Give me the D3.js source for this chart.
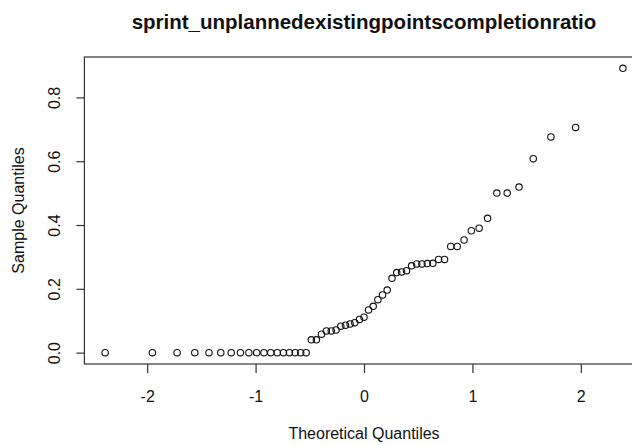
<!DOCTYPE html>
<html>
<head>
<meta charset="utf-8">
<script src="https://cdn.jsdelivr.net/npm/d3@7"></script>
<style>
  body { margin: 0; background: #fff; }
  text { font-family: "Liberation Sans", Arial, sans-serif; fill: #111; }
</style>
</head>
<body>
<div id="chart"></div>
<script>
// sorted sample values
const sampleQuantiles = [
  0, 0, 0, 0, 0, 0, 0, 0, 0, 0, 0, 0, 0, 0, 0, 0, 0, 0,
  0.040, 0.040, 0.058, 0.068, 0.068, 0.071, 0.083, 0.086, 0.090, 0.094,
  0.104, 0.111, 0.134, 0.145, 0.166, 0.181, 0.196, 0.233, 0.251, 0.253,
  0.257, 0.272, 0.278, 0.278, 0.279, 0.280, 0.292, 0.292, 0.333, 0.333,
  0.353, 0.382, 0.390, 0.421, 0.500, 0.500, 0.519, 0.608, 0.676, 0.706, 0.891
];

// x positions of the points
const theoreticalQuantiles = [
  -2.388, -1.952, -1.724, -1.561, -1.430, -1.321, -1.225, -1.140, -1.062, -0.990,
  -0.923, -0.860, -0.800, -0.743, -0.688, -0.635, -0.584, -0.534, -0.486, -0.439,
  -0.392, -0.347, -0.302, -0.258, -0.214, -0.171, -0.128, -0.085, -0.042, 0,
  0.042, 0.085, 0.128, 0.171, 0.214, 0.258, 0.302, 0.347, 0.392, 0.439,
  0.486, 0.534, 0.584, 0.635, 0.688, 0.743, 0.800, 0.860, 0.923, 0.990,
  1.062, 1.140, 1.225, 1.321, 1.430, 1.561, 1.724, 1.952, 2.388
];

const xTicks = [-2, -1, 0, 1, 2];
const yTicks = [0.0, 0.2, 0.4, 0.6, 0.8];

const title = 'sprint_unplannedexistingpointscompletionratio';

const width = 632;
const height = 445;
const plot = { left: 84.4, right: 643.6, top: 57, bottom: 364 };

const svg = d3.select('#chart')
    .append('svg')
    .attr('width', width)
    .attr('height', height);

// R style 4% padding
function pad(ext) {
    const d = (ext[1] - ext[0]) * 0.04;
    return [ext[0] - d, ext[1] + d];
}

const x = d3.scaleLinear()
    .domain(pad(d3.extent(theoreticalQuantiles)))
    .range([plot.left, plot.right]);

const y = d3.scaleLinear()
    .domain(pad(d3.extent(sampleQuantiles)))
    .range([plot.bottom, plot.top]);

// box
svg.append('rect')
    .attr('x', plot.left)
    .attr('y', plot.top)
    .attr('width', plot.right - plot.left)
    .attr('height', plot.bottom - plot.top)
    .attr('fill', 'none')
    .attr('stroke', '#333')
    .attr('stroke-width', 1.2);

// x axis
const gx = svg.append('g')
    .attr('transform', `translate(0,${plot.bottom})`)
    .call(d3.axisBottom(x).tickValues(xTicks).tickSize(9));
gx.select('.domain').remove();
gx.selectAll('line').attr('stroke', '#333').attr('stroke-width', 1.2);
gx.selectAll('text')
    .attr('y', 38)
    .attr('dy', null)
    .style('font-size', '16px')
    .text((d) => d < 0 ? '-' + Math.abs(d) : d);

// y axis, labels rotated like R
const gy = svg.append('g')
    .attr('transform', `translate(${plot.left},0)`)
    .call(d3.axisLeft(y).tickValues(yTicks).tickSize(8).tickFormat(d3.format('.1f')));
gy.select('.domain').remove();
gy.selectAll('line').attr('stroke', '#333').attr('stroke-width', 1.2);
gy.selectAll('text')
    .attr('x', null)
    .attr('dy', null)
    .attr('text-anchor', 'middle')
    .attr('transform', 'translate(-24,0) rotate(-90)')
    .style('font-size', '16px');

// points
svg.append('g')
    .selectAll('circle')
    .data(sampleQuantiles)
    .enter()
    .append('circle')
    .attr('cx', (d, i) => x(theoreticalQuantiles[i]))
    .attr('cy', (d) => y(d))
    .attr('r', 3.2)
    .attr('fill', 'none')
    .attr('stroke', '#111')
    .attr('stroke-width', 1.1);

// titles
svg.append('text')
    .attr('x', (plot.left + plot.right) / 2)
    .attr('y', 29)
    .attr('text-anchor', 'middle')
    .style('font-size', '20.5px')
    .style('font-weight', 'bold')
    .text(title);

svg.append('text')
    .attr('x', (plot.left + plot.right) / 2)
    .attr('y', 439)
    .attr('text-anchor', 'middle')
    .style('font-size', '16px')
    .text('Theoretical Quantiles');

svg.append('text')
    .attr('transform', `translate(24,${(plot.top + plot.bottom) / 2}) rotate(-90)`)
    .attr('text-anchor', 'middle')
    .style('font-size', '16px')
    .text('Sample Quantiles');
</script>
</body>
</html>
